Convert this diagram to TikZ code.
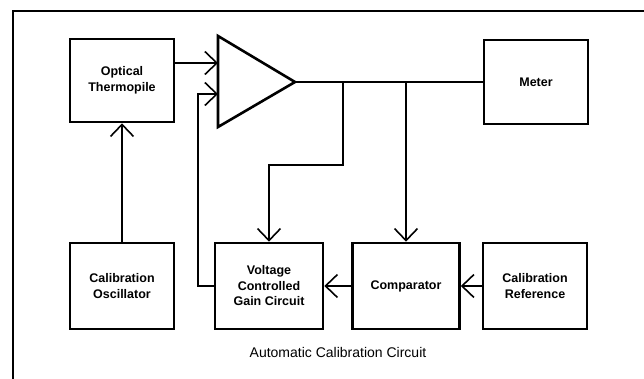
\documentclass[tikz,border=0pt]{standalone}
\usepackage{fontspec}
\setmainfont{Liberation Sans}
\usetikzlibrary{arrows.meta}
\tikzset{
  block/.style={draw, line width=2.6pt, minimum width=104pt, minimum height=86pt,
    align=center, font=\fontsize{12.5}{15.5}\selectfont\bfseries},
  wire/.style={line width=1.6pt},
  feed/.style={wire, -{Straight Barb[length=12pt,width=23pt]}}
}
\begin{document}
\begin{tikzpicture}[x=1pt,y=-1pt]
    \useasboundingbox (0,0) rectangle (644,379);
    % frame
    \draw[line width=2pt] (13,379) -- (13,11) -- (644,11);
    % blocks
    \node[block, minimum height=83pt] (therm) at (122,80.5) {Optical\\Thermopile};
    \node[block, minimum height=84pt] (meter) at (536,82) {Meter};
    \node[block] (osc) at (122,286) {Calibration\\Oscillator};
    \node[block, minimum width=108pt] (vcg) at (269,286) {Voltage\\Controlled\\Gain Circuit};
    \node[block, minimum width=107pt] (comp) at (406,286) {Comparator};
    \node[block] (ref) at (535,286) {Calibration\\Reference};
    % amplifier
    \coordinate (in1) at (218,63);
    \coordinate (in2) at (218,94);
    \coordinate (out) at (295,82);
    \draw[line width=2.6pt, line join=miter] (218,36) -- (out) -- (218,127) -- cycle;
    % taps on the output line
    \coordinate (tap1) at (343,82);
    \coordinate (tap2) at (406,82);
    \coordinate (bend) at (343,165);
    % connections
    \draw[wire] (out) -- (meter.west);
    \draw[feed] (therm.east |- in1) -- (in1);
    \draw[feed] (osc.north) -- (therm.south);
    \draw[feed] (tap1) -- (bend) -- (vcg.north |- bend) -- (vcg.north);
    \draw[feed] (tap2) -- (comp.north);
    \draw[feed] (vcg.west) -- (198,286) -- (198,94) -- (in2);
    \draw[feed] (comp.west) -- (vcg.east);
    \draw[feed] (ref.west) -- (comp.east);
    \node[font=\fontsize{14}{16}\selectfont] (title) at (338,352) {Automatic Calibration Circuit};
\end{tikzpicture}
\end{document}
